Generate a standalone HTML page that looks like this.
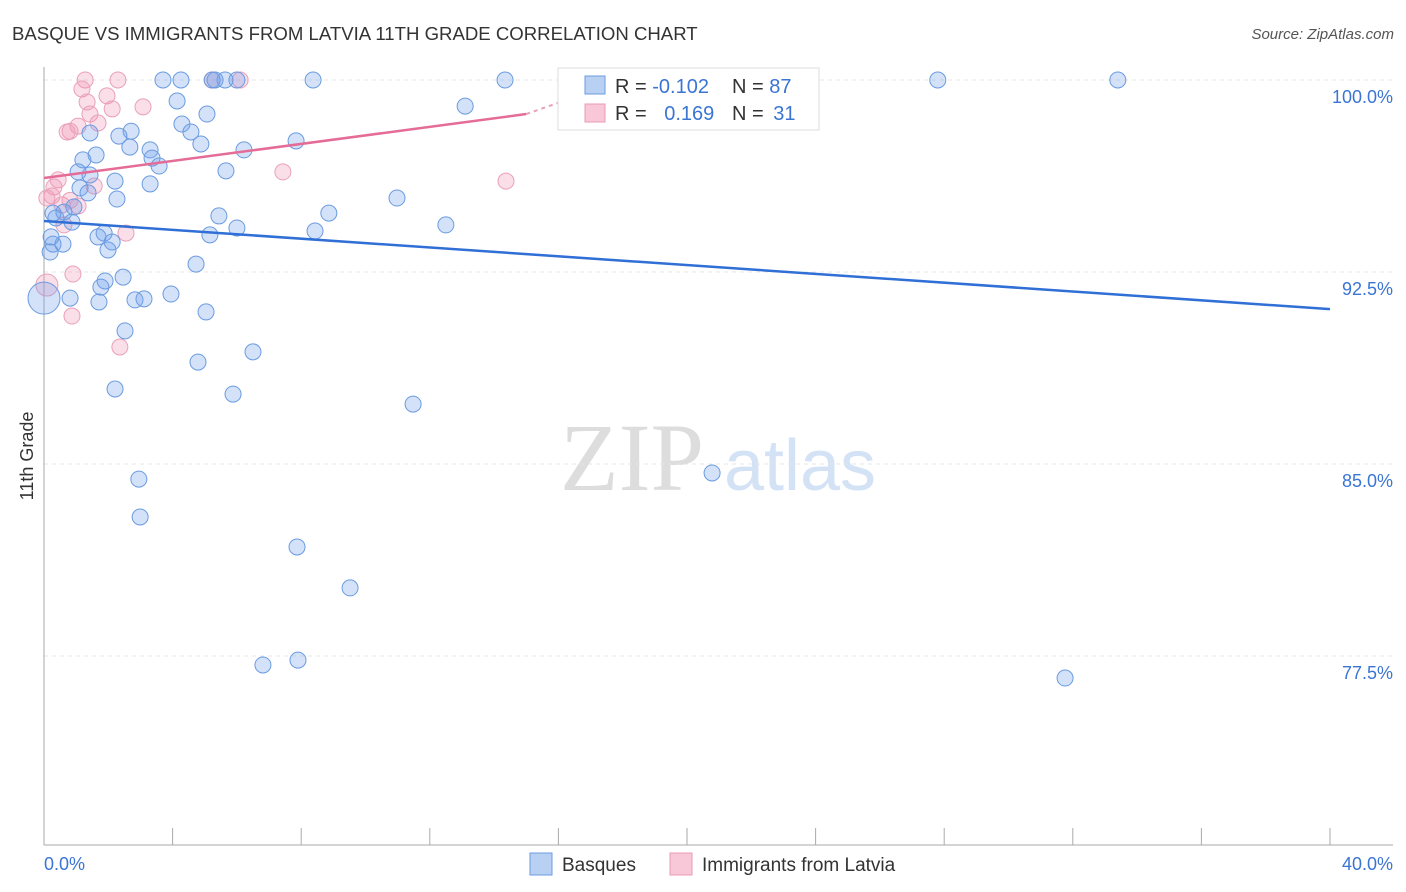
<!DOCTYPE html>
<html><head><meta charset="utf-8"><style>
body{margin:0;background:#fff;font-family:"Liberation Sans",sans-serif;}
svg{display:block}
</style></head><body>
<svg id="chart" width="1406" height="892">
<text x="12" y="40" font-size="18.6" fill="#333">BASQUE VS IMMIGRANTS FROM LATVIA 11TH GRADE CORRELATION CHART</text>
<text x="1394" y="39" font-size="15" fill="#555" text-anchor="end" font-style="italic">Source: ZipAtlas.com</text>
<text x="33" y="456" font-size="18" fill="#333" text-anchor="middle" transform="rotate(-90 33 456)">11th Grade</text>
<g>
<text x="632" y="490" font-size="96" fill="#ddd" font-family="Liberation Serif,serif" text-anchor="middle">ZIP</text>
<text x="800" y="490" font-size="72" fill="#d4e2f5" text-anchor="middle">atlas</text>
</g>
<g id="grid"></g><g id="axes"></g><g id="pts"></g><g id="trend"></g>
<g>
<rect x="558" y="68" width="261" height="62" fill="#fff" stroke="#ddd"/>
<rect x="585" y="76" width="20" height="18" fill="#b8d0f2" stroke="#6b9be0"/>
<rect x="585" y="104" width="20" height="18" fill="#f8c8d8" stroke="#e89ab5"/>
<text x="615" y="93" font-size="20" fill="#333">R = <tspan fill="#3a75d4">-0.102</tspan></text>
<text x="732" y="93" font-size="20" fill="#333">N = <tspan fill="#3a75d4">87</tspan></text>
<text x="615" y="120" font-size="20" fill="#333">R = <tspan fill="#3a75d4" dx="12">0.169</tspan></text>
<text x="732" y="120" font-size="20" fill="#333">N = <tspan fill="#3a75d4" dx="4">31</tspan></text>
</g>
<g>
<rect x="530" y="853" width="22" height="22" fill="#b8d0f2" stroke="#6b9be0"/>
<text x="562" y="871" font-size="19" fill="#333">Basques</text>
<rect x="670" y="853" width="22" height="22" fill="#f8c8d8" stroke="#e89ab5"/>
<text x="702" y="871" font-size="19" fill="#333">Immigrants from Latvia</text>
</g>
</svg>
<script>
const xTickLabels=["0.0%","40.0%"];
const yTicks=[100,92.5,85,77.5];
const yTickLabels=["100.0%","92.5%","85.0%","77.5%"];
const basqueX=[3.7,4.26,5.32,5.63,6.0,8.37,14.34,27.8,33.4,23.8,5.23,4.14,5.07,13.1,4.29,4.57,1.43,2.71,2.33,4.88,6.22,2.67,3.3,1.62,3.36,3.58,5.66,1.21,1.06,1.43,2.21,3.3,1.12,1.37,2.27,10.98,0.93,0.62,0.37,0.87,5.44,8.86,12.5,6.0,5.16,8.43,1.87,1.68,2.12,0.28,0.59,0.22,1.99,0.19,4.73,2.46,1.9,1.77,1.71,0.81,0.0,2.83,3.11,3.95,5.04,2.52,6.5,4.79,2.21,5.88,11.48,20.78,2.95,2.99,7.87,9.52,6.81,7.9,31.76,7.84,0.28];
const basqueY=[100,100,100,100,100,100,100,100,100,100,100,99.18,98.67,98.98,98.28,97.97,97.93,98.0,97.81,97.5,97.27,97.38,97.27,97.07,96.95,96.64,96.45,96.88,96.41,96.29,96.05,95.94,95.78,95.59,95.35,95.39,95.04,94.84,94.61,94.45,94.69,94.8,94.34,94.22,93.95,94.1,94.02,93.87,93.67,93.59,93.59,93.87,93.36,93.28,92.81,92.3,92.15,91.91,91.33,91.48,91.48,91.41,91.45,91.64,90.94,90.2,89.38,88.98,87.93,87.73,87.34,84.65,84.41,82.93,81.76,80.16,77.15,77.34,76.64,97.62,94.8];
const latviaX=[1.28,2.3,5.23,6.1,1.18,1.96,1.34,2.12,3.08,1.43,1.68,1.06,0.81,0.72,7.43,14.37,0.44,0.31,1.56,0.25,0.09,0.56,1.06,0.81,0.62,2.55,0.9,0.09,0.87,2.36];
const latviaY=[100,100,100,100,99.65,99.38,99.14,98.87,98.95,98.67,98.32,98.2,98.0,97.97,96.41,96.05,96.1,95.82,95.86,95.47,95.39,95.12,95.08,95.3,94.34,94.02,92.42,91.99,90.78,89.57];
const basqueTrend=[94.49,91.05]; // at x=0 and x=40
const latviaTrend=[96.17,98.67,99.2]; // at x=0, 15, 16.2
const NS="http://www.w3.org/2000/svg";
const X=v=>44+v*32.15, Y=v=>80+(100-v)*25.6;
function mk(t,a,p){const e=document.createElementNS(NS,t);for(const k in a)e.setAttribute(k,a[k]);p.appendChild(e);return e;}
const grid=document.getElementById('grid'),axes=document.getElementById('axes'),pts=document.getElementById('pts'),tr=document.getElementById('trend');
yTicks.forEach((t,i)=>{
 const l=mk('line',{x1:44,x2:1393,y1:Y(t),y2:Y(t),stroke:'#e4e4e4','stroke-dasharray':'4,4'},grid);
 
 
 const tx=mk('text',{x:1393,y:Y(t)+23,'font-size':18,fill:'#3a75d4','text-anchor':'end'},axes);
 tx.textContent=yTickLabels[i];
 
 
});
mk('line',{x1:44,x2:44,y1:67,y2:845,stroke:'#aaa'},axes);
mk('line',{x1:44,x2:1393,y1:845,y2:845,stroke:'#aaa'},axes);
for(let i=0;i<=10;i++){const tk=mk('line',{x1:X(i*4),x2:X(i*4),y1:828,y2:845,stroke:'#aaa'},axes);
 
 }
[[0,'start'],[40,'end']].forEach((d,i)=>{const t=mk('text',{x:i?1393:44,y:870,'font-size':18,fill:'#3a75d4','text-anchor':d[1]},axes);t.textContent=xTickLabels[i];
 
 });
latviaX.forEach((v,i)=>{const c=mk('circle',{cx:X(v),cy:Y(latviaY[i]),r:i==27?11:8,fill:'rgba(240,150,180,0.3)',stroke:'#eaa0bb','stroke-width':1},pts);
 
 });
basqueX.forEach((v,i)=>{const c=mk('circle',{cx:X(v),cy:Y(basqueY[i]),r:i==60?16:8,fill:'rgba(110,160,235,0.3)',stroke:'#6b9be0','stroke-width':1},pts);
 
 });
const bl=mk('line',{x1:X(0),y1:Y(basqueTrend[0]),x2:X(40),y2:Y(basqueTrend[1]),stroke:'#2f6fd6','stroke-width':2.5},tr);


const pl=mk('line',{x1:X(0),y1:Y(latviaTrend[0]),x2:X(15),y2:Y(latviaTrend[1]),stroke:'#e46c97','stroke-width':2.5},tr);


const pd=mk('line',{x1:X(15),y1:Y(latviaTrend[1]),x2:X(16.2),y2:Y(latviaTrend[2]),stroke:'#e8a0bb','stroke-width':2,'stroke-dasharray':'4,4'},tr);


</script>
</body></html>
